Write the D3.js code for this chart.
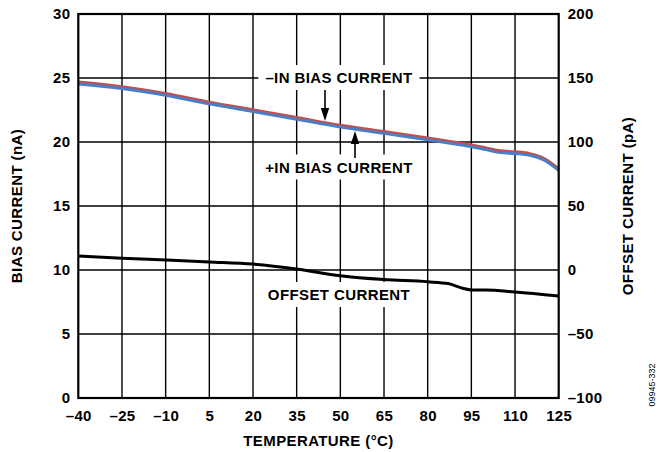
<!DOCTYPE html>
<html>
<head>
<meta charset="utf-8">
<script src="https://cdn.jsdelivr.net/npm/d3@7/dist/d3.min.js"></script>
<style>
  html, body { margin: 0; padding: 0; background: #fff; }
  svg { display: block; }
  text { font-family: "Liberation Sans", Arial, Helvetica, sans-serif; font-weight: bold; fill: #000; }
</style>
</head>
<body>
<svg id="chart" width="660" height="452"></svg>
<script>
// ---- data ----
const temps = [-40, -25, -10, 5, 20, 35, 50, 65, 80, 95, 100, 105, 110, 115, 120, 125];
const minusInBias = [24.7, 24.33, 23.8, 23.12, 22.52, 21.92, 21.32, 20.82, 20.32, 19.77, 19.55, 19.32, 19.24, 19.1, 18.72, 17.92];
const plusInBias  = [24.53, 24.18, 23.65, 22.97, 22.37, 21.77, 21.17, 20.67, 20.17, 19.62, 19.4, 19.17, 19.09, 18.95, 18.57, 17.77];
const offsetTemps = [-40, -25, -10, 5, 20, 35, 50, 65, 80, 87, 92, 95, 100, 110, 125];
const offsetCurrent = [10.9, 9.2, 7.8, 6.3, 4.6, 0.8, -4.5, -7.5, -9.2, -10.6, -14.2, -15.6, -15.6, -17.2, -20.3];
const xTicks = [-40, -25, -10, 5, 20, 35, 50, 65, 80, 95, 110, 125];
const leftTicks = [0, 5, 10, 15, 20, 25, 30];
const rightTicks = [-100, -50, 0, 50, 100, 150, 200];

// ---- layout ----
const W = 660, H = 452;
const m = { left: 78.3, right: 101.3, top: 14, bottom: 54 };
const x0 = m.left, x1 = W - m.right, y0 = H - m.bottom, y1 = m.top;

const svg = d3.select("#chart");
const x = d3.scaleLinear().domain([-40, 125]).range([x0, x1]);
const yL = d3.scaleLinear().domain([0, 30]).range([y0, y1]);
const yR = d3.scaleLinear().domain([-100, 200]).range([y0, y1]);
const fmt = v => (v < 0 ? "\u2013" + Math.abs(v) : String(v));

// grid
const grid = svg.append("g").attr("stroke", "#000").attr("stroke-width", 1.4);
grid.selectAll("line.v").data(xTicks.slice(1, -1)).join("line")
  .attr("x1", d => x(d)).attr("x2", d => x(d)).attr("y1", y1).attr("y2", y0);
grid.selectAll("line.h").data(leftTicks.slice(1, -1)).join("line")
  .attr("x1", x0).attr("x2", x1).attr("y1", d => yL(d)).attr("y2", d => yL(d));

// annotation boxes (white, mask grid)
const labels = [
  { text: "\u2013IN BIAS CURRENT", cx: 339, y: 83 },
  { text: "+IN BIAS CURRENT", cx: 339, y: 172.5 },
  { text: "OFFSET CURRENT", cx: 339, y: 300 }
];
const lab = svg.append("g");
labels.forEach(l => {
  const t = lab.append("text").attr("x", l.cx).attr("y", l.y)
    .attr("text-anchor", "middle").attr("font-size", 15).attr("letter-spacing", 0.4).text(l.text);
  const bb = t.node().getBBox();
  lab.insert("rect", "text").attr("x", bb.x - 7).attr("y", bb.y - 4)
    .attr("width", bb.width + 14).attr("height", bb.height + 8).attr("fill", "#fff");
});

// lines
const lineL = d3.line().x((d, i) => x(temps[i])).y(d => yL(d)).curve(d3.curveMonotoneX);
svg.append("path").datum(minusInBias).attr("d", lineL)
  .attr("fill", "none").attr("stroke", "#c0504d").attr("stroke-width", 2.8);
svg.append("path").datum(plusInBias).attr("d", lineL)
  .attr("fill", "none").attr("stroke", "#4a7ec6").attr("stroke-width", 2.8);
const lineO = d3.line().x((d, i) => x(offsetTemps[i])).y(d => yR(d)).curve(d3.curveMonotoneX);
svg.append("path").datum(offsetCurrent).attr("d", lineO)
  .attr("fill", "none").attr("stroke", "#000").attr("stroke-width", 3);

// arrows
function arrow(xa, yFrom, yTo) {
  const dir = yTo > yFrom ? 1 : -1;
  svg.append("line").attr("x1", xa).attr("x2", xa).attr("y1", yFrom).attr("y2", yTo - dir * 9)
    .attr("stroke", "#000").attr("stroke-width", 1.6);
  svg.append("path")
    .attr("d", `M${xa},${yTo} L${xa - 4.2},${yTo - dir * 13} L${xa + 4.2},${yTo - dir * 13} Z`)
    .attr("fill", "#000");
}
arrow(325, 90, 121);
arrow(355, 158, 131);

// frame
svg.append("rect").attr("x", x0).attr("y", y1).attr("width", x1 - x0).attr("height", y0 - y1)
  .attr("fill", "none").attr("stroke", "#000").attr("stroke-width", 2.2);

// axes (labels only)
const axB = svg.append("g").attr("transform", `translate(0,${y0})`)
  .call(d3.axisBottom(x).tickValues(xTicks).tickFormat(fmt).tickSize(0).tickPadding(12));
const axL = svg.append("g").attr("transform", `translate(${x0},0)`)
  .call(d3.axisLeft(yL).tickValues(leftTicks).tickFormat(fmt).tickSize(0).tickPadding(8));
const axR = svg.append("g").attr("transform", `translate(${x1},0)`)
  .call(d3.axisRight(yR).tickValues(rightTicks).tickFormat(fmt).tickSize(0).tickPadding(9));
[axB, axL, axR].forEach(a => {
  a.select(".domain").remove();
  a.selectAll("text").attr("font-size", 15).attr("font-family", "Liberation Sans, Arial, sans-serif")
    .attr("font-weight", "bold").attr("fill", "#000").attr("letter-spacing", 0.3);
});

// axis titles
svg.append("text").attr("x", (x0 + x1) / 2).attr("y", 446).attr("text-anchor", "middle")
  .attr("font-size", 15).attr("letter-spacing", 0.4).text("TEMPERATURE (\u00B0C)");
svg.append("text").attr("transform", `translate(22,${(y0 + y1) / 2}) rotate(-90)`)
  .attr("text-anchor", "middle").attr("font-size", 15).attr("letter-spacing", 0.4).text("BIAS CURRENT (nA)");
svg.append("text").attr("transform", `translate(633,${(y0 + y1) / 2}) rotate(-90)`)
  .attr("text-anchor", "middle").attr("font-size", 15).attr("letter-spacing", 0.4).text("OFFSET CURRENT (pA)");
svg.append("text").attr("transform", `translate(655,385) rotate(-90)`)
  .attr("text-anchor", "middle").attr("font-size", 9).attr("font-weight", "normal")
  .style("font-weight", "normal").attr("fill", "#333").text("09945-332");
</script>
</body>
</html>
